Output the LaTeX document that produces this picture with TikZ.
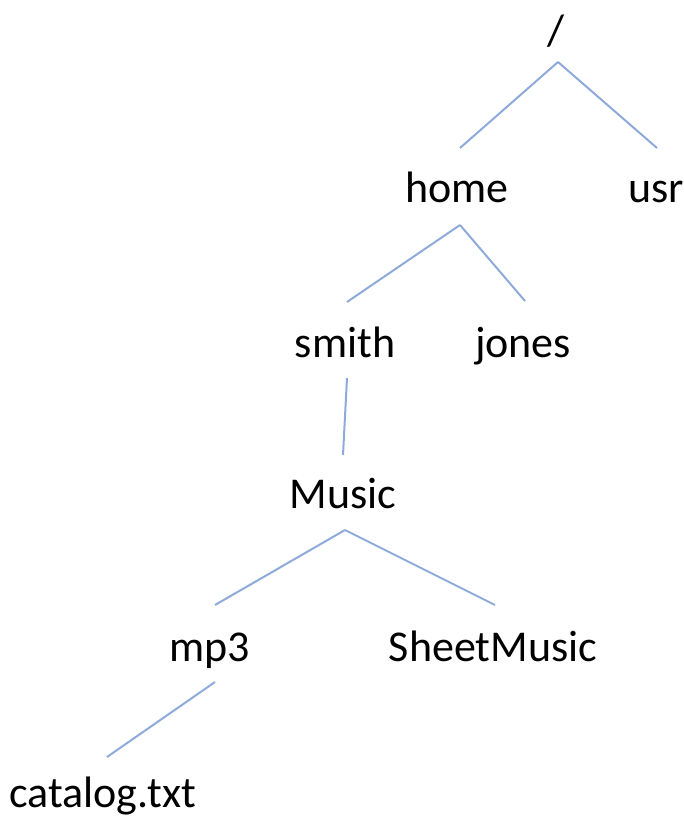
\documentclass[tikz,border=0pt]{standalone}
\usepackage{fontspec}
\setmainfont{Carlito}
\definecolor{linkblue}{RGB}{142,170,219}
\begin{document}
\begin{tikzpicture}[x=1pt,y=-1pt,
  lbl/.style={anchor=base,inner sep=0pt,font=\fontsize{44}{50}\selectfont},
  link/.style={draw=linkblue,line width=2pt}]
\useasboundingbox (0,0) rectangle (684,817);
\node[lbl] (root) at (556,45) {/};
\node[lbl] (home) at (457,202) {home};
\node[lbl] (usr) at (656,202) {usr};
\node[lbl] (smith) at (345,357) {smith};
\node[lbl] (jones) at (523,357) {jones};
\node[lbl] (music) at (343,508) {Music};
\node[lbl] (mp3) at (210,661) {mp3};
\node[lbl] (sheet) at (493,661) {SheetMusic};
\node[lbl] (catalog) at (103,807) {catalog.txt};
% connector ends
\coordinate (rootB) at (558,62);
\coordinate (homeT) at (460,148);
\coordinate (usrT) at (657,148);
\coordinate (homeB) at (460,225);
\coordinate (smithT) at (347,302);
\coordinate (jonesT) at (525,301);
\coordinate (smithB) at (347,378);
\coordinate (musicT) at (343,455);
\coordinate (musicB) at (345,530);
\coordinate (mp3T) at (215,605);
\coordinate (sheetT) at (495,605);
\coordinate (mp3B) at (215,682);
\coordinate (catalogT) at (107,757);
\draw[link] (rootB) -- (homeT);
\draw[link] (rootB) -- (usrT);
\draw[link] (homeB) -- (smithT);
\draw[link] (homeB) -- (jonesT);
\draw[link] (smithB) -- (musicT);
\draw[link] (musicB) -- (mp3T);
\draw[link] (musicB) -- (sheetT);
\draw[link] (mp3B) -- (catalogT);
\end{tikzpicture}
\end{document}
